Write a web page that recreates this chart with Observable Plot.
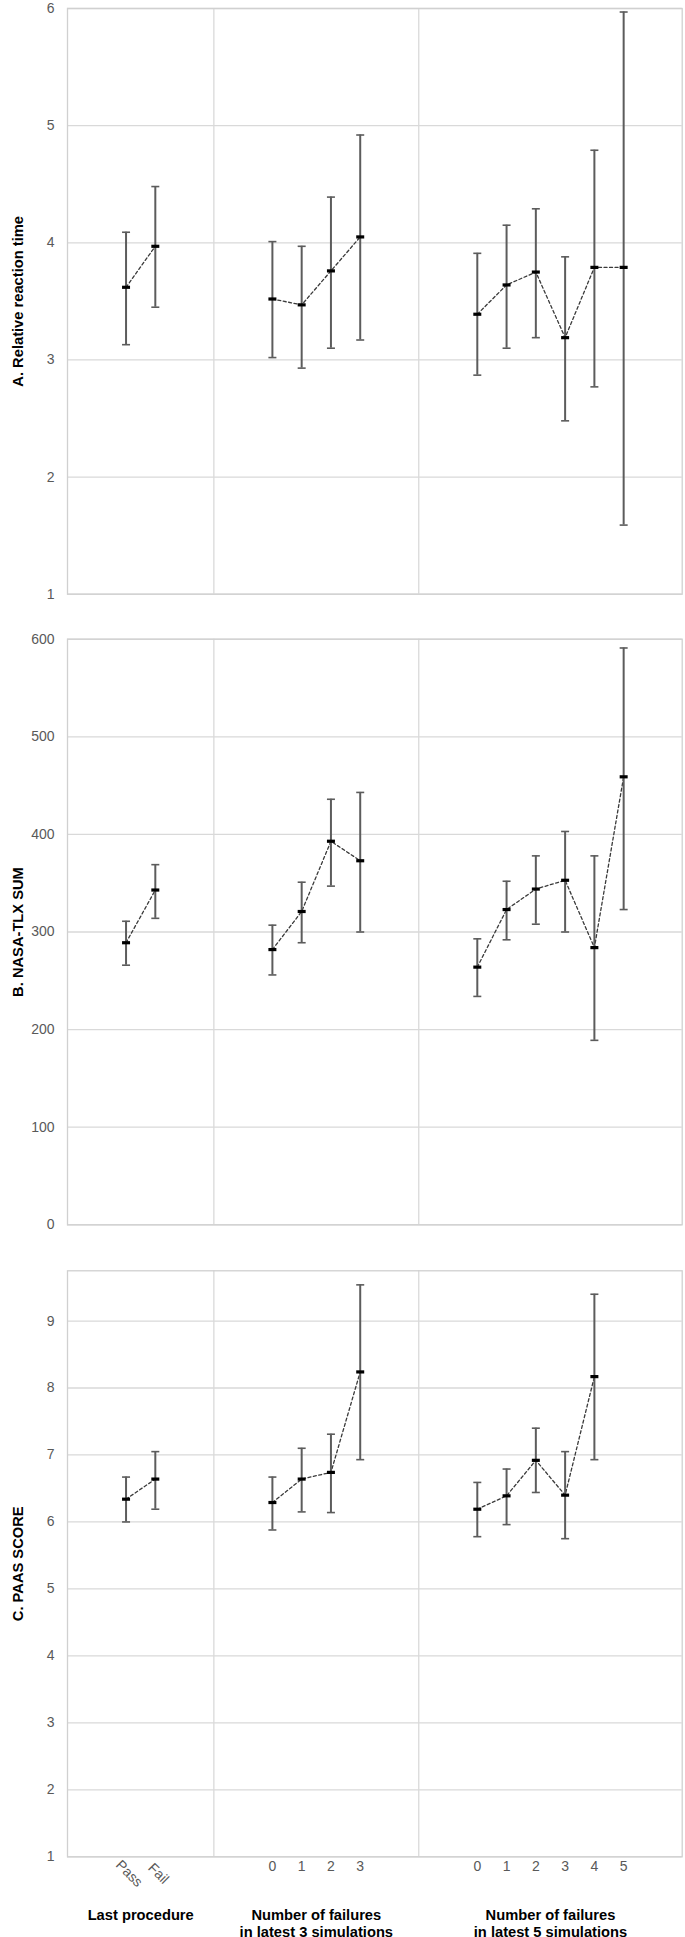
<!DOCTYPE html>
<html>
<head>
<meta charset="utf-8">
<script src="https://cdn.jsdelivr.net/npm/d3@7"></script>
<script src="https://cdn.jsdelivr.net/npm/@observablehq/plot@0.6"></script>
<style>
  html, body { margin: 0; padding: 0; background: #fff; }
  #chart svg { display: block; }
</style>
</head>
<body>
<div id="chart"></div>
<script>
// ---- categories (x slots) ----
const cats  = ["Pass", "Fail", "0", "1", "2", "3", "0", "1", "2", "3", "4", "5"];
const group = [0, 0, 1, 1, 1, 1, 2, 2, 2, 2, 2, 2];
const slot  = [2, 3, 7, 8, 9, 10, 14, 15, 16, 17, 18, 19];
const groupBounds = [0, 5, 12, 21];
const groupTitles = ["Last procedure", "Number of failures\nin latest 3 simulations", "Number of failures\nin latest 5 simulations"];

// ---- Panel A: Relative reaction time ----
const rtMean = [3.62, 3.97, 3.52, 3.47, 3.76, 4.05, 3.39, 3.64, 3.75, 3.19, 3.79, 3.79];
const rtLow  = [3.13, 3.45, 3.02, 2.93, 3.10, 3.17, 2.87, 3.10, 3.19, 2.48, 2.77, 1.59];
const rtHigh = [4.09, 4.48, 4.01, 3.97, 4.39, 4.92, 3.91, 4.15, 4.29, 3.88, 4.79, 5.97];
const rtTicks = [1, 2, 3, 4, 5, 6];

// ---- Panel B: NASA-TLX SUM ----
const tlxMean = [289, 343, 282, 321, 393, 373, 264, 323, 344, 353, 284, 459];
const tlxLow  = [266, 314, 256, 289, 347, 300, 234, 292, 308, 300, 189, 323];
const tlxHigh = [311, 369, 307, 351, 436, 443, 293, 352, 378, 403, 378, 591];
const tlxTicks = [0, 100, 200, 300, 400, 500, 600];

// ---- Panel C: PAAS SCORE ----
const paasMean = [6.34, 6.64, 6.29, 6.64, 6.74, 8.24, 6.19, 6.39, 6.92, 6.40, 8.17, null];
const paasLow  = [6.00, 6.19, 5.88, 6.15, 6.14, 6.93, 5.78, 5.96, 6.44, 5.75, 6.93, null];
const paasHigh = [6.67, 7.05, 6.67, 7.10, 7.31, 9.54, 6.59, 6.79, 7.40, 7.05, 9.40, null];
const paasTicks = [1, 2, 3, 4, 5, 6, 7, 8, 9];

const FONT = "'Liberation Sans', Arial, Helvetica, sans-serif";
const GRID = "#d9d9d9";
const BAR = "#5c5c5c";

const capSymbol = {
  draw(ctx) { ctx.moveTo(-4, 0); ctx.lineTo(4, 0); }
};
const meanSymbol = {
  draw(ctx) { ctx.moveTo(-4, -1.6); ctx.lineTo(4, -1.6); ctx.lineTo(4, 1.6); ctx.lineTo(-4, 1.6); ctx.closePath(); }
};

function panel({mean, low, high, domain, ticks, title, height, marginTop, marginBottom, bottom}) {
  const rows = cats.map((c, i) => ({cat: c, x: slot[i], g: group[i], m: mean[i], lo: low[i], hi: high[i]}));
  const valid = rows.filter(d => d.m != null);
  const dividers = groupBounds.slice(1, -1);
  const marks = [
    Plot.ruleY(ticks, {stroke: GRID, strokeWidth: 1.3}),
    Plot.ruleX(dividers, {stroke: GRID, strokeWidth: 1.3}),
    Plot.frame({stroke: "#d0d0d0", strokeWidth: 1.3}),
    Plot.line(rows, {x: "x", y: "m", z: "g", stroke: "#3a3a3a", strokeWidth: 1.3, strokeDasharray: "3,2.5"}),
    Plot.ruleX(valid, {x: "x", y1: "lo", y2: "hi", stroke: BAR, strokeWidth: 2}),
    Plot.dot(valid, {x: "x", y: "hi", symbol: capSymbol, fill: "none", stroke: BAR, strokeWidth: 1.6}),
    Plot.dot(valid, {x: "x", y: "lo", symbol: capSymbol, fill: "none", stroke: BAR, strokeWidth: 1.6}),
    Plot.dot(valid, {x: "x", y: "m", symbol: meanSymbol, fill: "#000", stroke: "none"}),
    Plot.text([title], {frameAnchor: "left", dx: -49, rotate: -90, textAnchor: "middle", text: d => d,
      fill: "#000", fontWeight: "bold", fontSize: 14.7, fontFamily: FONT})
  ];
  if (bottom) {
    const centers = groupTitles.map((t, i) => ({t, x: (groupBounds[i] + groupBounds[i + 1]) / 2}));
    marks.push(
      Plot.text(rows.filter(d => d.g === 0), {x: "x", text: "cat", frameAnchor: "bottom", dy: 20,
        rotate: 45, textAnchor: "middle", fill: "#595959", fontSize: 14, fontFamily: FONT}),
      Plot.text(rows.filter(d => d.g > 0), {x: "x", text: "cat", frameAnchor: "bottom", dy: 14.5,
        fill: "#595959", fontSize: 14, fontFamily: FONT}),
      Plot.text(centers, {x: "x", text: "t", frameAnchor: "bottom", dy: 51, lineAnchor: "top", lineHeight: 1.18,
        fill: "#000", fontWeight: "bold", fontSize: 14.7, fontFamily: FONT})
    );
  }
  return Plot.plot({
    width: 685,
    height,
    marginLeft: 67,
    marginRight: 3.3,
    marginTop,
    marginBottom,
    style: {fontFamily: FONT, fontSize: "14px", color: "#595959", background: "#fff", overflow: "visible"},
    x: {domain: [groupBounds[0], groupBounds[groupBounds.length - 1]], axis: null},
    y: {domain, ticks, tickSize: 0, tickPadding: 13, label: null, tickFormat: d => String(d)},
    marks
  });
}

const chart = document.getElementById("chart");
chart.appendChild(panel({mean: rtMean, low: rtLow, high: rtHigh, domain: [1, 6], ticks: rtTicks,
  title: "A. Relative reaction time", height: 616, marginTop: 8, marginBottom: 22.3}));
chart.appendChild(panel({mean: tlxMean, low: tlxLow, high: tlxHigh, domain: [0, 600], ticks: tlxTicks,
  title: "B. NASA-TLX SUM", height: 631, marginTop: 22.7, marginBottom: 22.7}));
chart.appendChild(panel({mean: paasMean, low: paasLow, high: paasHigh, domain: [1, 9.75], ticks: paasTicks,
  title: "C. PAAS SCORE", height: 690, marginTop: 23.3, marginBottom: 80.7, bottom: true}));
</script>
</body>
</html>
